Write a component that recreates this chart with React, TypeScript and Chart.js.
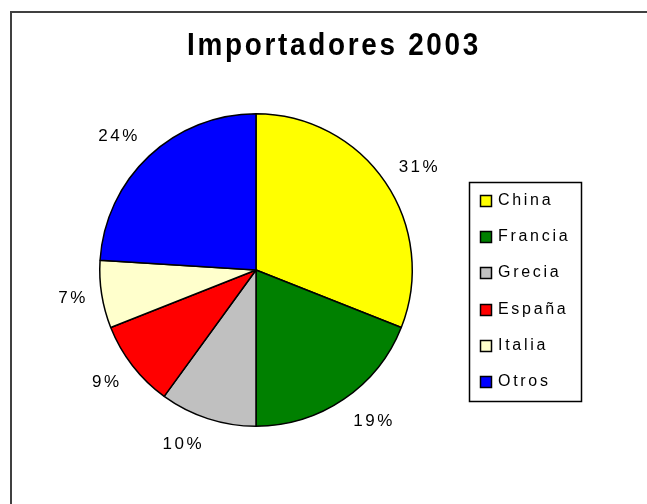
import React, { useEffect, useRef } from "react";
import { Chart, registerables } from "chart.js";

Chart.register(...registerables);

const TITLE = "Importadores 2003";
const categories = ["China", "Francia", "Grecia", "España", "Italia", "Otros"];
const values = [31, 19, 10, 9, 7, 24];
const colors = ["#FFFF00", "#008000", "#C0C0C0", "#FF0000", "#FFFFCC", "#0000FF"];

const FONT = '"Liberation Sans", Arial, sans-serif';

const framePlugin = {
  id: "frame",
  beforeDraw(chart: any) {
    const ctx = chart.ctx;
    ctx.save();
    ctx.fillStyle = "#ffffff";
    ctx.fillRect(0, 0, chart.width, chart.height);
    ctx.strokeStyle = "#404040";
    ctx.lineWidth = 2;
    ctx.beginPath();
    ctx.moveTo(11, chart.height);
    ctx.lineTo(11, 12);
    ctx.lineTo(chart.width, 12);
    ctx.stroke();
    ctx.restore();
  },
};

const titlePlugin = {
  id: "xlTitle",
  afterDraw(chart: any) {
    const ctx = chart.ctx;
    ctx.save();
    ctx.font = `bold 31px ${FONT}`;
    (ctx as any).letterSpacing = "3px";
    ctx.fillStyle = "#000";
    ctx.textAlign = "center";
    ctx.textBaseline = "middle";
    ctx.translate(334, 46);
    ctx.scale(0.9, 1);
    ctx.fillText(TITLE, 0, 0);
    (ctx as any).letterSpacing = "0px";
    ctx.restore();
  },
};

const labelPlugin = {
  id: "pctLabels",
  afterDatasetsDraw(chart: any) {
    const ctx = chart.ctx;
    const meta = chart.getDatasetMeta(0);
    const data = chart.data.datasets[0].data as number[];
    const total = data.reduce((a, b) => a + b, 0);
    ctx.save();
    ctx.font = `17px ${FONT}`;
    (ctx as any).letterSpacing = "2.5px";
    ctx.fillStyle = "#000";
    ctx.textAlign = "center";
    ctx.textBaseline = "middle";
    meta.data.forEach((arc: any, i: number) => {
      const p = arc.getProps(["x", "y", "startAngle", "endAngle", "outerRadius"], true);
      const mid = (p.startAngle + p.endAngle) / 2;
      const dx = Math.cos(mid);
      const dy = Math.sin(mid);
      const txt = `${Math.round((data[i] / total) * 100)}%`;
      const w = ctx.measureText(txt).width;
      const x = p.x + dx * (p.outerRadius + 15) + Math.sign(dx) * w / 2;
      const y = p.y + dy * (p.outerRadius + 27);
      ctx.fillText(txt, x + 1, y);
    });
    (ctx as any).letterSpacing = "0px";
    ctx.restore();
  },
};

const legendPlugin = {
  id: "xlLegend",
  afterDraw(chart: any) {
    const ctx = chart.ctx;
    const labels = chart.data.labels as string[];
    const bg = chart.data.datasets[0].backgroundColor as string[];
    const bx = 469.5, by = 182.5, bw = 112, bh = 219;
    ctx.save();
    ctx.strokeStyle = "#000";
    ctx.lineWidth = 1.5;
    ctx.strokeRect(bx, by, bw, bh);
    ctx.font = `16px ${FONT}`;
    (ctx as any).letterSpacing = "2.7px";
    ctx.textAlign = "left";
    ctx.textBaseline = "middle";
    labels.forEach((lab, i) => {
      const cy = Math.round(201 + i * 36.2);
      ctx.fillStyle = bg[i];
      ctx.fillRect(480.5, cy - 5.5, 11, 11);
      ctx.lineWidth = 1.5;
      ctx.strokeStyle = "#000";
      ctx.strokeRect(480.5, cy - 5.5, 11, 11);
      ctx.fillStyle = "#000";
      ctx.fillText(lab, 498, cy);
    });
    (ctx as any).letterSpacing = "0px";
    ctx.restore();
  },
};

export default function App() {
  const ref = useRef<HTMLCanvasElement | null>(null);
  useEffect(() => {
    if (!ref.current) return;
    const chart = new Chart(ref.current, {
      type: "pie",
      data: {
        labels: categories,
        datasets: [
          {
            data: values,
            backgroundColor: colors,
            borderColor: "#000000",
            borderWidth: 1.5,
          },
        ],
      },
      options: {
        responsive: false,
        animation: false,
        devicePixelRatio: 1,
        layout: { padding: { left: 99, top: 113, right: 234, bottom: 77 } },
        plugins: {
          legend: { display: false },
          title: { display: false },
          tooltip: { enabled: false },
        },
      },
      plugins: [framePlugin, titlePlugin, labelPlugin, legendPlugin],
    });
    return () => chart.destroy();
  }, []);
  return (
    <div style={{ position: "fixed", left: 0, top: 0, width: 647, height: 504, background: "#fff" }}>
      <canvas ref={ref} width={647} height={504} style={{ display: "block" }} />
    </div>
  );
}
